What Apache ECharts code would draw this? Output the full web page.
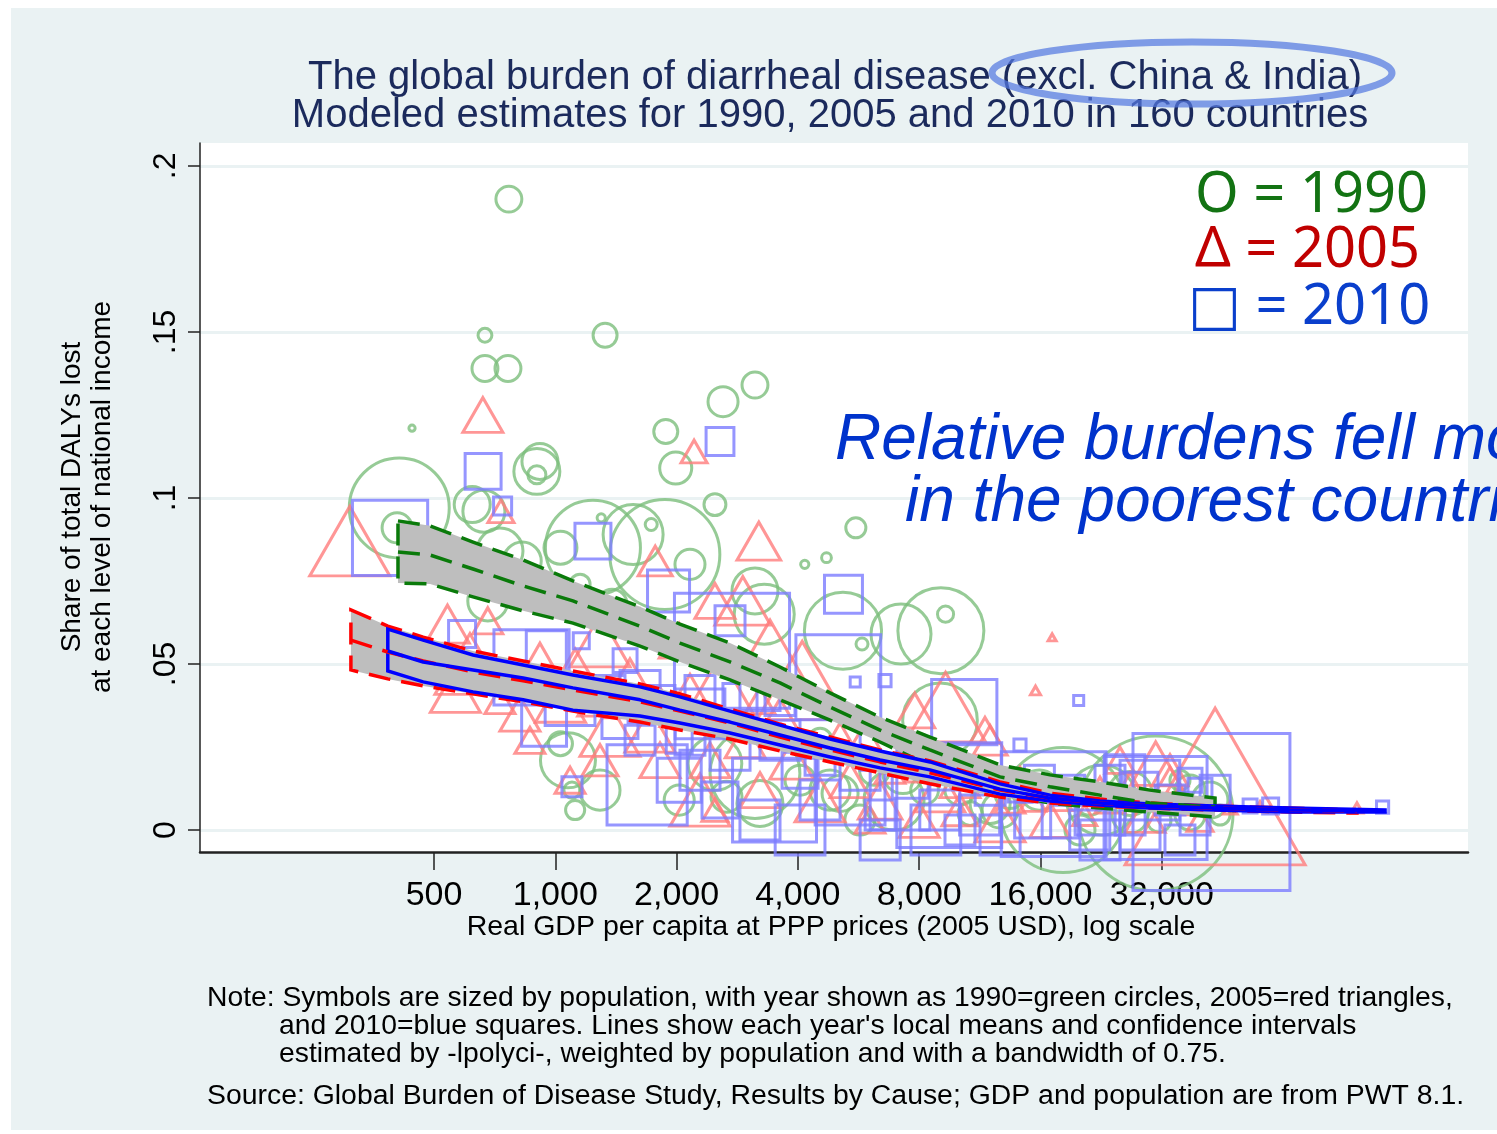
<!DOCTYPE html>
<html><head><meta charset="utf-8">
<script src="https://cdn.jsdelivr.net/npm/echarts@6/dist/echarts.min.js"></script>
<style>
html,body{margin:0;padding:0;background:#fff;}
#bg{position:absolute;left:11px;top:8px;width:1486px;height:1122px;background:#EAF2F3;}
#chart{position:absolute;left:0;top:0;width:1497px;height:1134px;}
</style></head><body>
<div id="bg"></div><div id="chart"></div>
<script>
// ---------------- DATA ----------------
const xTickValues = [500, 1000, 2000, 4000, 8000, 16000, 32000];
const yTickValues = [0, 0.05, 0.1, 0.15, 0.2];
const yTickLabels = ['0', '.05', '.1', '.15', '.2'];

// [GDP per capita, share of DALYs, population (millions)]
const points1990 = [
[767,.190,7.0],[669,.149,2.0],[1329,.149,6.0],[669,.139,7.0],[763,.139,7.0],[3130,.134,7.0],[2608,.129,9.4],
[441,.121,0.4],[1880,.120,6.0],[916,.111,13.5],[900,.107,3.4],[1990,.109,10.7],[2490,.098,5.0],[410,.097,104],
[405,.091,9.4],[622,.098,13.5],[665,.096,18.4],[729,.084,22],[900,.108,22],[5570,.091,4.2],[4710,.082,1.0],
[4160,.080,0.7],[1730,.092,1.5],[1300,.094,0.7],[1240,.085,94],[1870,.083,126],[2159,.080,9.4],[1030,.085,11.3],
[1152,.074,4.2],[1560,.089,37.5],[680,.069,16.7],[828,.081,15],[3130,.072,22],[3300,.065,37.5],[7210,.059,37.5],
[9055,.060,77],[9300,.065,2.7],[5770,.056,1.5],[5175,.060,62],[1075,.021,31.5],[1120,.006,3.8],[1100,.012,2.7],
[2490,.020,30],[2660,.010,10],[3130,.017,84],[3220,.008,22],[9010,.033,58],[7290,.017,16.7],[6930,.009,37.5],
[18200,.006,163],[30880,.005,250],[22700,.009,51],[12000,.008,16.7],[13440,.011,9.4],[26700,.011,20],
[37600,.012,9.4],[42140,.009,13.5],[35500,.015,4.2],[31500,.003,6],[5090,.011,13.5],[5700,.003,9.4],
[4050,.015,9.4],[15900,.012,16.7],[20050,.000,9.4],[10700,.005,6],[8250,.012,8],[1383,.068,9.4],[4540,.027,6],
[44630,.0045,4.2],[39800,.0075,2.7],[1291,.012,16.7],[2030,.009,9.4],[4806,.012,16.7],[10100,.012,9.4],
[12700,.006,13.5],[21200,.009,9.4],[26700,.0045,13.5],[37600,.0045,9.4],[1030,.026,6],[6200,.018,9.4]
];
const points2005 = [
[661,.125,16],[309,.087,64],[733,.096,6.8],[2210,.114,6.8],[3200,.087,19],[1770,.081,11.6],[2490,.069,16],
[2920,.069,31],[540,.062,19],[680,.063,9],[614,.050,49],[916,.051,16],[1291,.057,36],[1532,.045,25],[1030,.039,25],
[1367,.030,36],[2030,.057,16],[2159,.039,36],[2563,.042,64],[3411,.054,49],[4100,.045,81],[1088,.015,9],
[729,.039,9],[1819,.021,16],[2286,.009,36],[2490,.006,6.8],[3221,.012,16],[4540,.009,25],[5390,.015,16],
[6400,.009,19],[7800,.036,16],[9300,.037,64],[12000,.027,11.6],[17100,.058,0.64],[15550,.042,1.0],
[43400,.0131,324],[30900,.020,25],[26700,.012,16],[23800,.009,9],[35500,.009,11.6],[16900,.003,16],
[12700,.003,25],[10100,.006,13],[20600,.0045,5.8],[56100,.007,1.4],[97600,.0066,1.4],[47300,.0066,2],
[39800,.003,6.8],[8000,.003,16],[6040,.003,9],[9000,.012,25],[13440,.009,9],[3611,.033,25],[5090,.027,16],
[1819,.039,9],[1623,.063,6.8],[1260,.039,13],[3220,.039,9],[865,.027,9],[11650,.030,9],[9800,.021,9],
[15300,.009,6.8],[7170,.021,9],[29100,.0045,16],[33540,.015,9],
[565,.042,25],[817,.035,16],[1120,.048,25],[1490,.039,16],[1718,.030,25],[2960,.027,16],[3860,.021,19],
[5870,.027,16],[6770,.018,9],[10100,.015,16],[14230,.015,9],[17900,.009,5.8],[22480,.012,9],[28250,.009,5.8],
[37600,.0075,4],[25200,.021,9],[33540,.018,13],[8500,.021,25],[2420,.021,16],[1291,.021,13]
];
const points2010 = [
[662,.108,16.7],[2563,.117,10],[740,.0976,4.2],[389,.088,73],[1240,.087,16.7],[587,.059,9.4],[5190,.071,18.6],
[1910,.072,22.8],[2745,.054,171],[5040,.046,93],[873,.049,73],[950,.054,20.7],[1160,.057,3.3],[938,.032,26],
[1690,.0136,83],[3500,.009,91],[9500,.0105,142],[17250,.0078,142],[30880,.0066,137],[42500,.0054,318],
[14230,.0256,1.9],[19900,.039,1.3],[53000,.0072,2.5],[59600,.0072,3.3],[113000,.0069,1.9],[5550,.0446,1.3],
[6580,.045,1.9],[10350,.0355,55],[2286,.035,32],[2714,.024,20.7],[1447,.033,16.7],[1088,.039,32],[2030,.015,25],
[2563,.009,16.7],[3221,.003,20.7],[4050,.000,32],[8800,.000,32],[12700,-.0015,20.7],[22480,-.003,20.7],
[35500,-.003,11.6],[43400,.012,11.6],[37600,.015,7.4],[1100,.013,5.2],[4540,.021,11.6],[6400,.024,20.7],
[14230,.012,7.4],[3221,.042,20.7],[1819,.039,11.6],[1623,.027,11.6],[2714,.063,11.6],[15900,.015,11.6],
[25900,.0166,20.7],[10400,.018,8.7],[6400,.0045,11.6],[22480,.006,32],[29900,.012,46],[7170,.009,46],
[5390,.012,63],[11300,.0045,20.7],[2420,.054,5.2],[1490,.051,7.4],[2159,.027,11.6],[4050,.018,16.7],
[2286,.018,20.7],[17900,.003,16.7],[26700,.003,11.6],[38700,.003,11.6],
[1367,.042,11.6],[1623,.042,20.7],[2286,.042,11.6],[2873,.039,15],[3611,.039,11.6],[3611,.027,20.7],
[5705,.018,20.7],[7600,.015,16.7],[9000,.006,20.7],[12000,.012,11.6],[15300,.003,16.7],[18900,.012,11.6],
[23800,.015,11.6],[28250,.012,16.7],[33540,.009,11.6],[39800,.012,7.4],[21200,.000,20.7],[28250,.000,20.7],
[10100,.000,11.6],[6400,-.003,20.7],[4540,.009,20.7],[2030,.027,8.7],[1623,.036,7.4]
];

// local polynomial fits: x grid, lower CI, mean, upper CI
const fitX1990 = [407,489,625,832,1106,1623,2039,2714,3611,4806,6396,8508,12693,16893,22479,29913,43380];
const fitUp1990 = [.0931,.0916,.0867,.0813,.0750,.0672,.0620,.0563,.0491,.0413,.0340,.0280,.0196,.0166,.0145,.0120,.0096];
const fitMean1990 = [.0837,.0828,.0786,.0735,.0690,.0614,.0563,.0506,.0443,.0370,.0301,.0241,.0160,.0130,.0105,.0081,.0069];
const fitLo1990 = [.0744,.0741,.0702,.0660,.0623,.0554,.0506,.0452,.0392,.0331,.0265,.0193,.0111,.0081,.0066,.0054,.0039];

const fitX2005 = [311,384,470,625,832,1106,1623,2039,2714,3611,4806,6396,8508,12693,16893,22479,29913,43380,66600,97600];
const fitUp2005 = [.0663,.0614,.0581,.0539,.0509,.0479,.0440,.0410,.0364,.0319,.0280,.0241,.0208,.0145,.0111,.0093,.0081,.0072,.0066,.0060];
const fitMean2005 = [.0572,.0536,.0509,.0476,.0449,.0422,.0386,.0358,.0322,.0280,.0241,.0205,.0172,.0120,.0096,.0081,.0072,.0066,.0060,.0057];
const fitLo2005 = [.0482,.0455,.0434,.0410,.0386,.0358,.0325,.0301,.0274,.0238,.0205,.0172,.0139,.0099,.0081,.0072,.0066,.0060,.0054,.0051];

const fitX2010 = [384,470,625,832,1106,1623,2039,2714,3611,4806,6396,8508,12693,16893,22479,29913,43380,66600,114600];
const fitUp2010 = [.0605,.0572,.0527,.0497,.0467,.0431,.0401,.0358,.0316,.0274,.0238,.0205,.0139,.0105,.0087,.0078,.0072,.0066,.0060];
const fitMean2010 = [.0539,.0506,.0482,.0458,.0428,.0392,.0361,.0325,.0286,.0247,.0211,.0181,.0123,.0096,.0081,.0072,.0066,.0060,.0057];
const fitLo2010 = [.0479,.0446,.0416,.0392,.0361,.0343,.0322,.0292,.0256,.0220,.0187,.0160,.0108,.0087,.0075,.0066,.0060,.0054,.0054];

// ---------------- CHART ----------------
const FONT = '"Liberation Sans", Arial, sans-serif';
const chart = echarts.init(document.getElementById('chart'), null, {renderer: 'canvas'});

function commas(v) {
  return String(Math.round(v)).replace(/\B(?=(\d{3})+(?!\d))/g, ',');
}

function band(gx, lo, hi, color, dash) {
  return {
    type: 'custom', coordinateSystem: 'cartesian2d', silent: true, clip: false, z: 3,
    data: gx.map((g, i) => [g, lo[i], hi[i]]),
    encode: {x: 0, y: [1, 2]},
    renderItem: (params, api) => {
      if (params.dataIndex !== 0) return null;
      const pts = [];
      for (let i = 0; i < gx.length; i++) pts.push(api.coord([gx[i], hi[i]]));
      for (let i = gx.length - 1; i >= 0; i--) pts.push(api.coord([gx[i], lo[i]]));
      return {type: 'polygon', shape: {points: pts},
        style: {fill: '#BEBEBE', stroke: color, lineWidth: 3.5, lineDash: dash}};
    }
  };
}
function meanLine(gx, m, color, dash) {
  return {
    type: 'line', silent: true, z: 4, showSymbol: false, symbol: 'none', clip: false,
    data: gx.map((g, i) => [g, m[i]]),
    lineStyle: {color: color, width: 3.5, type: dash || 'solid'}
  };
}
function scatter(pts, symbol, sizeFn, color) {
  return {
    type: 'scatter', silent: true, z: 2, clip: false, symbol: symbol,
    data: pts, symbolSize: v => sizeFn(v[2]),
    itemStyle: {color: 'rgba(255,255,255,0)', borderColor: color, borderWidth: 3}
  };
}

const option = {
  animation: false,
  grid: {left: 200, top: 143, right: 29, bottom: 282, show: true, backgroundColor: '#ffffff', borderWidth: 0},
  xAxis: {
    type: 'log', logBase: 2, min: 131.3, max: 184100,
    axisLine: {show: true, onZero: false, lineStyle: {color: '#222', width: 2.5}},
    axisTick: {show: true, length: 18, customValues: xTickValues, lineStyle: {color: '#222', width: 1.5}},
    axisLabel: {customValues: xTickValues, formatter: v => commas(v), fontFamily: FONT, fontSize: 34, color: '#000', margin: 27},
    splitLine: {show: false}, minorTick: {show: false}
  },
  yAxis: {
    type: 'value', min: -0.00663, max: 0.2069,
    axisLine: {show: true, onZero: false, lineStyle: {color: '#222', width: 1.5}},
    axisTick: {show: true, length: 12, customValues: yTickValues, lineStyle: {color: '#222', width: 1.5}},
    axisLabel: {customValues: yTickValues, rotate: 90, fontFamily: FONT, fontSize: 32, color: '#000', margin: 18,
      formatter: v => { const i = yTickValues.findIndex(t => Math.abs(t - v) < 1e-6); return i >= 0 ? yTickLabels[i] : ''; }},
    splitLine: {show: true, lineStyle: {color: '#EAF2F3', width: 3}}
  },
  series: [
    scatter(points1990, 'circle', p => 9.8 * Math.sqrt(p), '#7CBE7C'),
    scatter(points2005, 'triangle', p => [10 * Math.sqrt(p), 8.7 * Math.sqrt(p)], '#FF7C7C'),
    scatter(points2010, 'rect', p => 8.8 * Math.sqrt(p), '#7C7CFF'),
    band(fitX1990, fitLo1990, fitUp1990, '#0A7A0A', [22, 11]),
    band(fitX2005, fitLo2005, fitUp2005, '#FF0000', [22, 11]),
    band(fitX2010, fitLo2010, fitUp2010, '#0000FF', null),
    meanLine(fitX1990, fitMean1990, '#0A7A0A', [22, 11]),
    meanLine(fitX2005, fitMean2005, '#FF0000', [22, 11]),
    meanLine(fitX2010, fitMean2010, '#0000FF', 'solid')
  ],
  graphic: [
    {type: 'text', x: 835, y: 78, z: 100, style: {text: 'The global burden of diarrheal disease (excl. China & India)', font: '40px ' + FONT, fill: '#1B2A5C', align: 'center', verticalAlign: 'middle'}},
    {type: 'text', x: 830, y: 116, z: 100, style: {text: 'Modeled estimates for 1990, 2005 and 2010 in 160 countries', font: '40px ' + FONT, fill: '#1B2A5C', align: 'center', verticalAlign: 'middle'}},
    {type: 'ellipse', z: 101, shape: {cx: 1192, cy: 73, rx: 200, ry: 31}, style: {fill: 'none', stroke: 'rgba(85,120,225,0.72)', lineWidth: 7}},
    {type: 'text', x: 1195, y: 196, z: 100, style: {text: 'O = 1990', font: '56px "Noto Sans", "DejaVu Sans", sans-serif', fill: '#137313', align: 'left', verticalAlign: 'middle'}},
    {type: 'text', x: 1195, y: 251, z: 100, style: {text: 'Δ = 2005', font: '56px "Noto Sans", "DejaVu Sans", sans-serif', fill: '#C00000', align: 'left', verticalAlign: 'middle'}},
    {type: 'text', x: 1188, y: 308, z: 100, style: {text: '□ = 2010', font: '56px "Noto Sans", "DejaVu Sans", sans-serif', fill: '#0A3FCC', align: 'left', verticalAlign: 'middle'}},
    {type: 'text', x: 835, y: 441, z: 100, style: {text: 'Relative burdens fell most', font: 'italic 64px ' + FONT, fill: '#0033CC', align: 'left', verticalAlign: 'middle'}},
    {type: 'text', x: 905, y: 503, z: 100, style: {text: 'in the poorest countries', font: 'italic 64px ' + FONT, fill: '#0033CC', align: 'left', verticalAlign: 'middle'}},
    {type: 'text', x: 72, y: 497, rotation: Math.PI / 2, z: 100, style: {text: 'Share of total DALYs lost', font: '28px ' + FONT, fill: '#000', align: 'center', verticalAlign: 'middle'}},
    {type: 'text', x: 102, y: 497, rotation: Math.PI / 2, z: 100, style: {text: 'at each level of national income', font: '28px ' + FONT, fill: '#000', align: 'center', verticalAlign: 'middle'}},
    {type: 'text', x: 831, y: 927, z: 100, style: {text: 'Real GDP per capita at PPP prices (2005 USD), log scale', font: '28.5px ' + FONT, fill: '#000', align: 'center', verticalAlign: 'middle'}},
    {type: 'text', x: 207, y: 998, z: 100, style: {text: 'Note: Symbols are sized by population, with year shown as 1990=green circles, 2005=red triangles,', font: '28.3px ' + FONT, fill: '#000', align: 'left', verticalAlign: 'middle'}},
    {type: 'text', x: 279, y: 1026, z: 100, style: {text: "and 2010=blue squares. Lines show each year's local means and confidence intervals", font: '28.3px ' + FONT, fill: '#000', align: 'left', verticalAlign: 'middle'}},
    {type: 'text', x: 279, y: 1054, z: 100, style: {text: 'estimated by -lpolyci-, weighted by population and with a bandwidth of 0.75.', font: '28.3px ' + FONT, fill: '#000', align: 'left', verticalAlign: 'middle'}},
    {type: 'text', x: 207, y: 1096, z: 100, style: {text: 'Source: Global Burden of Disease Study, Results by Cause; GDP and population are from PWT 8.1.', font: '28.4px ' + FONT, fill: '#000', align: 'left', verticalAlign: 'middle'}}
  ]
};
chart.setOption(option);
</script>
</body></html>
